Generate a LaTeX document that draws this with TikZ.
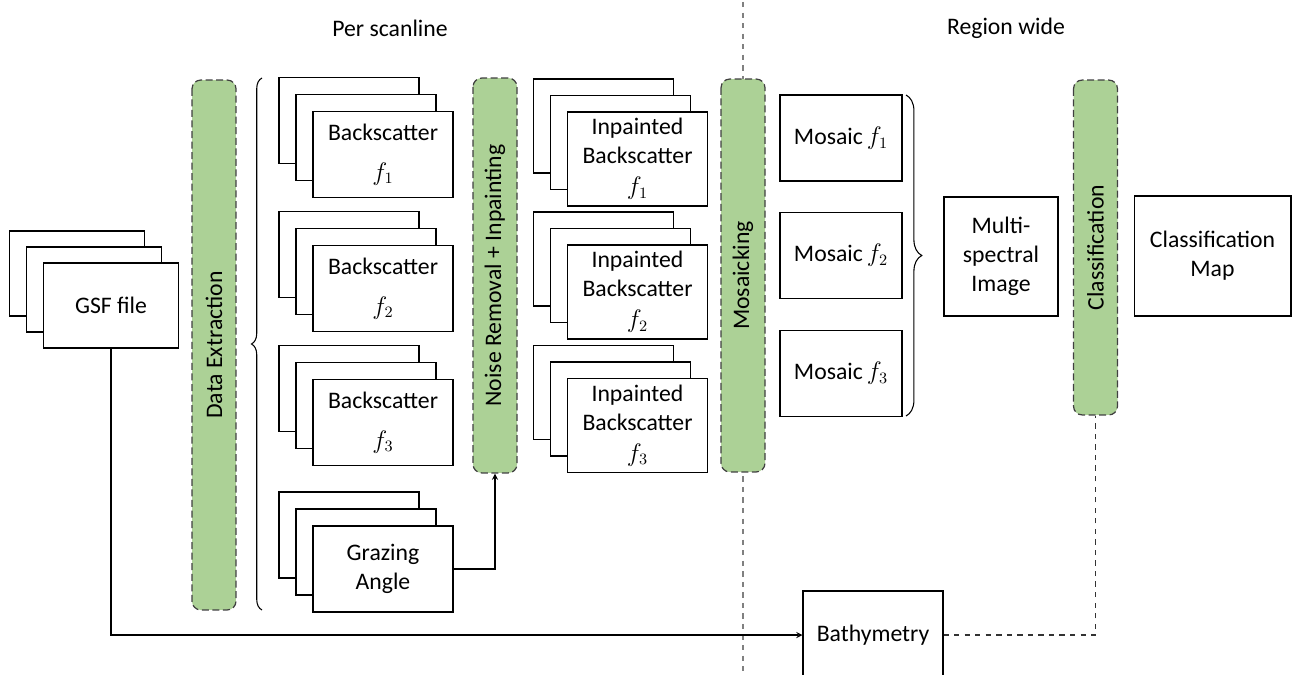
\documentclass[tikz,border=0pt]{standalone}
\usepackage{fontspec}
\setmainfont{Carlito}
\usepackage{tikz}
\usetikzlibrary{arrows, calc, decorations.pathreplacing}
\definecolor{stagegreen}{RGB}{172,209,150}

\begin{document}
\begin{tikzpicture}[
    x=0.02cm, y=-0.02cm,
    font=\fontsize{13.5}{16.5}\selectfont,
    sheet/.style={rectangle, draw, fill=white, line width=0.6pt, minimum width=2.8cm, minimum height=1.72cm, align=center, inner sep=2pt},
    tallsheet/.style={sheet, minimum height=1.88cm},
    box/.style={rectangle, draw, fill=white, line width=0.6pt, align=center, inner sep=2pt},
    stage/.style={rectangle, rounded corners=5pt, draw=black!75, dash pattern=on 4pt off 2pt, line width=0.7pt, fill=stagegreen, rotate=90, minimum height=0.88cm},
    link/.style={->, >=stealth, line width=0.6pt},
    divider/.style={dashed, draw=gray, line width=0.6pt},
    curly/.style={decorate, line width=0.6pt}
]
\useasboundingbox (0,0) rectangle (1294,675);

% Headings and divider
\node (perscan) at (390,28) {Per scanline};
\node (regwide) at (1006,28) {Region wide};
\coordinate (sep-top) at (743,2);
\coordinate (sep-bot) at (743,675);
\draw[divider] (sep-top) -- (sep-bot);

% Input
\node[box, minimum width=2.7cm, minimum height=1.7cm] (gsf-back) at (77,273.5) {};
\node[box, minimum width=2.7cm, minimum height=1.7cm] (gsf-mid) at (94,289.5) {};
\node[box, minimum width=2.7cm, minimum height=1.7cm] (gsf) at (111,305.5) {GSF file};

% Processing stages (rotated, so west is the bottom end)
\node[stage, minimum width=10.6cm] (extract) at (214,345) {Data Extraction};
\node[stage, minimum width=7.9cm] (noise) at (495,275.5) {Noise Removal + Inpainting};
\node[stage, minimum width=7.86cm] (mosaic) at (743,275.5) {Mosaicking};
\node[stage, minimum width=6.7cm] (cls) at (1095.5,247.5) {Classification};

% Per scanline layers
\foreach \i/\yy in {1/154.5, 2/288.5, 3/422.5} {
    \node[sheet] (bs\i-back) at (349,\yy-34) {};
    \node[sheet] (bs\i-mid) at (366,\yy-17) {};
    \node[sheet] (bs\i) at (383,\yy) {Backscatter\\[6pt]$f_\i$};
}
\node[sheet] (graze-back) at (349,535) {};
\node[sheet] (graze-mid) at (366,552) {};
\node[sheet] (graze) at (383,569) {Grazing\\Angle};

\foreach \i/\yy in {1/159, 2/292, 3/425.5} {
    \node[tallsheet] (inp\i-back) at (603.5,\yy-33) {};
    \node[tallsheet] (inp\i-mid) at (620.5,\yy-16.5) {};
    \node[tallsheet] (inp\i) at (637.5,\yy) {Inpainted\\Backscatter\\[1pt]$f_\i$};
}

% Region wide
\foreach \i/\yy in {1/138, 2/255.5, 3/373.5} {
    \node[box, minimum width=2.44cm, minimum height=1.72cm] (mos\i) at (841,\yy) {Mosaic\,$f_\i$};
}
\node[box, minimum width=2.28cm, minimum height=2.38cm] (msi) at (1001,256.5) {Multi-\\spectral\\Image};
\node[box, minimum width=3.14cm, minimum height=2.4cm] (clsmap) at (1212.5,256) {Classification\\Map};
\node[box, minimum width=2.8cm, minimum height=1.76cm] (bathy) at (873,635) {Bathymetry};

% Braces
\draw[curly, decoration={brace, amplitude=6pt}] (262,610) -- (262,78);
\draw[curly, decoration={brace, amplitude=9pt}] (906,95) -- (906,416);

% Connectors
\draw[link] (gsf.south) |- (bathy.west);
\draw[link] (graze.east) -| (noise.west);
\draw[dashed, line width=0.6pt, draw=black!80] (bathy.east) -| (cls.west);

\end{tikzpicture}
\end{document}
